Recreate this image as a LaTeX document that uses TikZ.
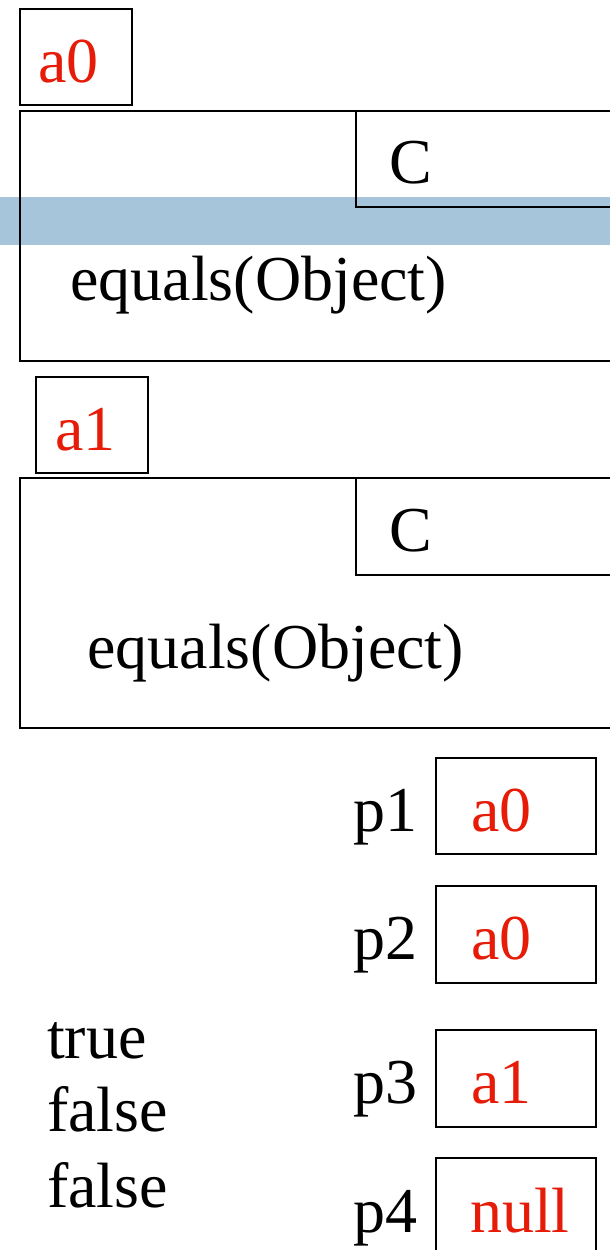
\documentclass[tikz,border=0pt]{standalone}
\usepackage{fontspec}
\newfontfamily\tnr{Liberation Serif}
\begin{document}
\begin{tikzpicture}[x=1pt,y=1pt,
  box/.style={draw=black,line width=2pt,inner sep=0pt,anchor=north west},
  txt/.style={anchor=base west,inner sep=0pt,font=\tnr\fontsize{64}{76}\selectfont},
  val/.style={txt,text={rgb,255:red,230;green,28;blue,8}}]
\useasboundingbox (0,0) rectangle (610,-1250);
% blue band
\fill[fill={rgb,255:red,166;green,196;blue,218}] (0,-197) rectangle (610,-245);
% object a0
\node[box,minimum width=112pt,minimum height=96pt] (ref0) at (19,-8) {};
\node[val] (ref0t) at (38,-82) {a0};
\node[box,minimum width=600pt,minimum height=250pt] (obj0) at (19,-110) {};
\node[box,minimum width=265pt,minimum height=96pt] (cls0) at (355,-110) {};
\node[txt] (cls0t) at (389,-183) {C};
\node[txt] (meth0) at (70,-300) {equals(Object)};
% object a1
\node[box,minimum width=112pt,minimum height=96pt] (ref1) at (35,-376) {};
\node[val] (ref1t) at (55,-450) {a1};
\node[box,minimum width=600pt,minimum height=250pt] (obj1) at (19,-477) {};
\node[box,minimum width=265pt,minimum height=97pt] (cls1) at (355,-477) {};
\node[txt] (cls1t) at (389,-551) {C};
\node[txt] (meth1) at (87,-668) {equals(Object)};
% variables
\node[txt] (p1l) at (353,-831) {p1};
\node[box,minimum width=160pt,minimum height=96pt] (p1b) at (435,-757) {};
\node[val] (p1v) at (471,-831) {a0};
\node[txt] (p2l) at (353,-959) {p2};
\node[box,minimum width=160pt,minimum height=97pt] (p2b) at (435,-885) {};
\node[val] (p2v) at (471,-959) {a0};
\node[txt] (p3l) at (353,-1103) {p3};
\node[box,minimum width=160pt,minimum height=97pt] (p3b) at (435,-1029) {};
\node[val] (p3v) at (471,-1103) {a1};
\node[txt] (p4l) at (353,-1232) {p4};
\node[box,minimum width=160pt,minimum height=120pt] (p4b) at (435,-1157) {};
\node[val] (p4v) at (470,-1232) {null};
% results
\node[txt] (r1) at (47,-1058) {true};
\node[txt] (r2) at (47,-1131) {false};
\node[txt] (r3) at (47,-1207) {false};
\end{tikzpicture}
\end{document}
